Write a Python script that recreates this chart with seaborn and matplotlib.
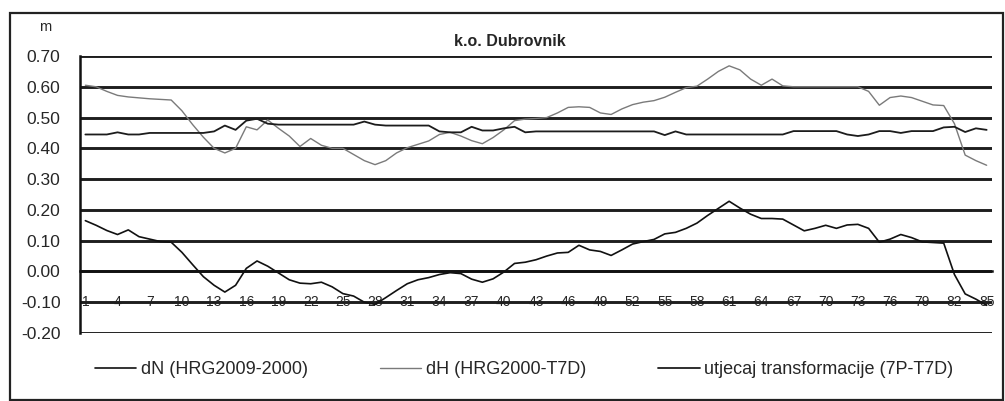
import matplotlib
matplotlib.use('Agg')
import matplotlib.pyplot as plt
import seaborn as sns
import pandas as pd
from matplotlib.patches import Rectangle

# tocke 1..85
tocke = list(range(1, 86))

dN = [0.165, 0.150, 0.133, 0.120, 0.135, 0.113, 0.105, 0.097, 0.095, 0.062,
      0.022, -0.017, -0.045, -0.067, -0.045, 0.010, 0.034, 0.017, -0.005, -0.027,
      -0.038, -0.040, -0.035, -0.050, -0.072, -0.080, -0.100, -0.107, -0.085, -0.062,
      -0.040, -0.027, -0.020, -0.010, -0.004, -0.007, -0.025, -0.035, -0.024, -0.002,
      0.026, 0.030, 0.038, 0.050, 0.060, 0.062, 0.085, 0.070, 0.065, 0.052,
      0.070, 0.089, 0.097, 0.104, 0.122, 0.127, 0.140, 0.157, 0.182, 0.205,
      0.228, 0.206, 0.186, 0.172, 0.172, 0.170, 0.151, 0.132, 0.140, 0.150,
      0.140, 0.151, 0.153, 0.140, 0.095, 0.105, 0.120, 0.110, 0.096, 0.094,
      0.092, -0.010, -0.073, -0.090, -0.110]

dH = [0.605, 0.600, 0.585, 0.572, 0.567, 0.564, 0.561, 0.559, 0.557, 0.522,
      0.477, 0.436, 0.400, 0.385, 0.400, 0.470, 0.460, 0.492, 0.465, 0.440,
      0.406, 0.432, 0.410, 0.400, 0.400, 0.380, 0.360, 0.347, 0.360, 0.385,
      0.402, 0.413, 0.424, 0.445, 0.452, 0.440, 0.425, 0.415, 0.435, 0.460,
      0.490, 0.495, 0.497, 0.500, 0.515, 0.533, 0.535, 0.533, 0.515, 0.510,
      0.528, 0.542, 0.550, 0.555, 0.566, 0.582, 0.597, 0.602, 0.625, 0.650,
      0.668, 0.655, 0.625, 0.605, 0.625, 0.603, 0.600, 0.600, 0.600, 0.600,
      0.600, 0.600, 0.600, 0.585, 0.540, 0.565, 0.570, 0.565, 0.553, 0.541,
      0.539, 0.480, 0.378, 0.360, 0.345]

utjecaj = [0.445, 0.445, 0.445, 0.452, 0.445, 0.445, 0.450, 0.450, 0.450, 0.450,
           0.450, 0.450, 0.455, 0.474, 0.460, 0.490, 0.496, 0.480, 0.477, 0.477,
           0.477, 0.477, 0.477, 0.477, 0.477, 0.477, 0.487, 0.477, 0.474, 0.474,
           0.474, 0.474, 0.474, 0.455, 0.452, 0.452, 0.470, 0.458, 0.458, 0.465,
           0.470, 0.452, 0.455, 0.455, 0.455, 0.455, 0.455, 0.455, 0.455, 0.455,
           0.455, 0.455, 0.455, 0.455, 0.443, 0.455, 0.445, 0.445, 0.445, 0.445,
           0.445, 0.445, 0.445, 0.445, 0.445, 0.445, 0.456, 0.456, 0.456, 0.456,
           0.456, 0.445, 0.440, 0.445, 0.456, 0.456, 0.450, 0.456, 0.456, 0.456,
           0.468, 0.470, 0.453, 0.465, 0.460]

nazivi = ['dN (HRG2009-2000)', 'dH (HRG2000-T7D)', 'utjecaj transformacije (7P-T7D)']
boje = ['#111111', '#7a7a7a', '#1c1c1c']
debljine = [1.2, 1.0, 1.3]

df = pd.DataFrame({'tocka': tocke, nazivi[0]: dN, nazivi[1]: dH, nazivi[2]: utjecaj})
df = df.melt(id_vars='tocka', var_name='serija', value_name='m')

sns.set_style('white')
plt.rcParams['font.family'] = ['Liberation Sans', 'DejaVu Sans']
plt.rcParams['axes.unicode_minus'] = False

fig = plt.figure(figsize=(10.05, 4.01), dpi=100)
ax = fig.add_axes([80 / 1005, 1 - 333 / 401, 912 / 1005, 277 / 401])

ax.set_axisbelow(True)
ax.yaxis.grid(True, color='#1e1e1e', linewidth=2.1)

for naziv, boja, lw in zip(nazivi, boje, debljine):
    sns.lineplot(data=df[df['serija'] == naziv], x='tocka', y='m', color=boja,
                 linewidth=lw, ax=ax, label=naziv, zorder=3)

ax.set_xlim(0.5, 85.5)
ax.set_ylim(-0.2, 0.7)
ax.set_yticks([i / 10 for i in range(-2, 8)])
ax.set_yticklabels([f'{i / 10:.2f}' for i in range(-2, 8)], fontsize=12.5)
ax.set_xticks(tocke)
ax.set_xticklabels([str(t) if (t - 1) % 3 == 0 else '' for t in tocke], fontsize=10)
ax.set_xlabel('')
ax.set_ylabel('')

for s in ['top', 'right']:
    ax.spines[s].set_visible(False)
ax.spines['left'].set_color('#111111')
ax.spines['left'].set_linewidth(1.8)
ax.spines['bottom'].set_position(('data', 0))
ax.spines['bottom'].set_color('#111111')
ax.spines['bottom'].set_linewidth(1.8)
ax.tick_params(axis='y', direction='out', length=4, width=1.4, color='#111111', pad=10)
ax.tick_params(axis='x', direction='out', length=4, width=1.2, color='#111111', pad=13)

fig.text(510 / 1005, 1 - 42 / 401, 'k.o. Dubrovnik', fontsize=11.5,
         fontweight='bold', ha='center', va='center')
fig.text(45 / 1005, 1 - 27 / 401, 'm', fontsize=10.5, ha='center', va='center')

ax.legend(loc='center', bbox_to_anchor=(524 / 1005, 1 - 370 / 401),
          bbox_transform=fig.transFigure, ncol=3, frameon=False, fontsize=13,
          handlelength=2.3, columnspacing=4.0, handletextpad=0.25)

fig.patches.append(Rectangle((10 / 1005, 1 / 401), 993 / 1005, 387 / 401,
                             transform=fig.transFigure, fill=False,
                             edgecolor='#222222', linewidth=1.6))

fig.savefig('out.png', dpi=100)
